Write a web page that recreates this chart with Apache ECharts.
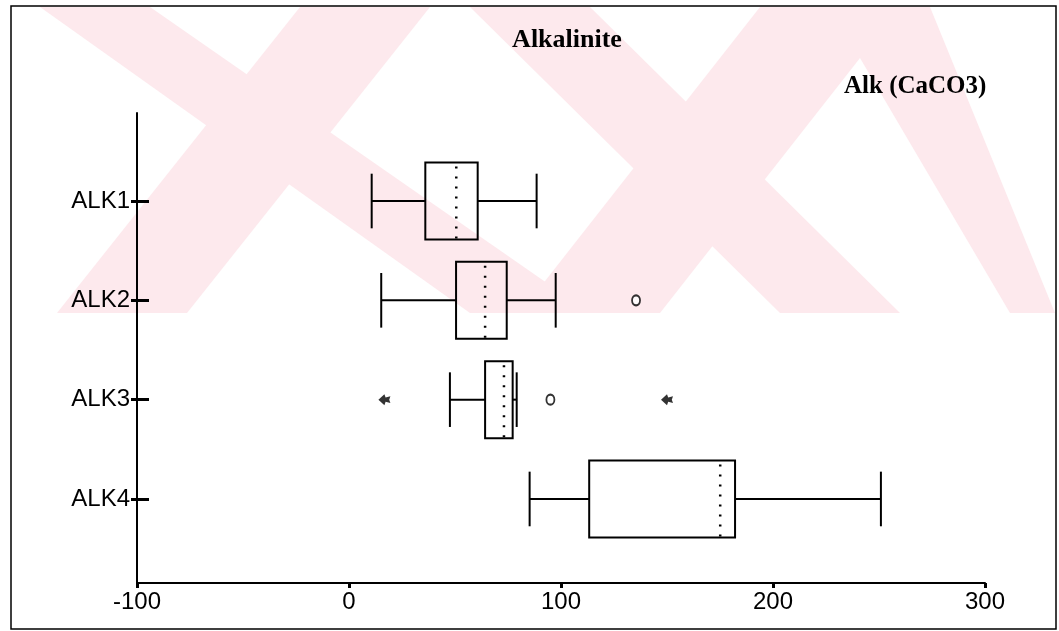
<!DOCTYPE html>
<html>
<head>
<meta charset="utf-8">
<script src="https://cdn.jsdelivr.net/npm/echarts@6/dist/echarts.min.js"></script>
<style>
html, body { margin: 0; padding: 0; background: #fff; }
#chart { width: 1059px; height: 631px; }
</style>
</head>
<body>
<div id="chart"></div>
<script>
var categories = ['ALK1', 'ALK2', 'ALK3', 'ALK4'];
// per row: whisker low, Q1, median, Q3, whisker high
var alk1 = [10.7, 36.0, 50.6, 60.7, 88.5];
var alk2 = [15.2, 50.5, 64.2, 74.4, 97.5];
var alk3 = [47.6, 64.2, 73.1, 77.2, 79.1];
var alk4 = [85.2, 113.3, 175.1, 182.1, 250.9];
var boxValues = [alk1, alk2, alk3, alk4];
// outliers: [value, category]
var circleOutliers = [[135.4, 'ALK2'], [95.0, 'ALK3']];
var starOutliers = [[16.7, 'ALK3'], [150.0, 'ALK3']];
var xTicks = [-100, 0, 100, 200, 300];

var rowOf = function (cat) { return categories.indexOf(cat) + 1; };
var rowTicks = categories.map(function (c, i) { return i + 1; });

var myChart = echarts.init(document.getElementById('chart'), null, { renderer: 'canvas' });

function renderBox(params, api) {
  var row = api.value(0);
  var pLo = api.coord([api.value(1), row]);
  var pQ1 = api.coord([api.value(2), row]);
  var pMed = api.coord([api.value(3), row]);
  var pQ3 = api.coord([api.value(4), row]);
  var pHi = api.coord([api.value(5), row]);
  var boxH = api.size([0, 0.775])[1];
  var capH = api.size([0, 0.55])[1];
  var y = pQ1[1];
  var ls = { stroke: '#000', lineWidth: 2, fill: null };
  return {
    type: 'group',
    children: [
      { type: 'rect', shape: { x: pQ1[0], y: y - boxH / 2, width: pQ3[0] - pQ1[0], height: boxH }, style: ls },
      { type: 'line', shape: { x1: pLo[0], y1: y, x2: pQ1[0], y2: y }, style: ls },
      { type: 'line', shape: { x1: pQ3[0], y1: y, x2: pHi[0], y2: y }, style: ls },
      { type: 'line', shape: { x1: pLo[0], y1: y - capH / 2, x2: pLo[0], y2: y + capH / 2 }, style: ls },
      { type: 'line', shape: { x1: pHi[0], y1: y - capH / 2, x2: pHi[0], y2: y + capH / 2 }, style: ls },
      { type: 'line', shape: { x1: pMed[0], y1: y - boxH / 2 + 4, x2: pMed[0], y2: y + boxH / 2 }, style: { stroke: '#000', lineWidth: 2.5, lineDash: [2, 8] } }
    ]
  };
}

// faint watermark bands (top part of the page only)
function band(a, b, c, d) {
  return {
    type: 'polygon', z: -10, silent: true,
    shape: { points: [[a, 7], [b, 7], [d, 313], [c, 313]] },
    style: { fill: '#fde9ed' }
  };
}

var option = {
  animation: false,
  backgroundColor: '#fff',
  title: [
    {
      text: 'Alkalinite', left: 562, top: 22, textAlign: 'center',
      textStyle: { fontFamily: 'Liberation Serif', fontWeight: 'bold', fontSize: 26, color: '#000' }
    },
    {
      text: 'Alk (CaCO3)', left: 839, top: 69,
      textStyle: { fontFamily: 'Liberation Serif', fontWeight: 'bold', fontSize: 25, color: '#000' }
    }
  ],
  graphic: [
    band(40, 150, 470, 590),
    band(300, 430, 57, 187),
    band(470, 590, 780, 900),
    band(760, 900, 520, 660),
    band(830, 930, 1010, 1055),
    {
      type: 'rect', z: 100, silent: true,
      shape: { x: 11, y: 6, width: 1045, height: 623 },
      style: { fill: null, stroke: '#000', lineWidth: 1.5 }
    }
  ],
  grid: { left: 137, right: 74, top: 113, bottom: 48 },
  xAxis: {
    type: 'value',
    min: xTicks[0], max: xTicks[xTicks.length - 1], interval: 100,
    axisLine: { onZero: false, lineStyle: { color: '#000', width: 2 } },
    axisTick: { length: 5, lineStyle: { color: '#000', width: 3 } },
    axisLabel: { color: '#000', fontFamily: 'Liberation Sans', fontSize: 24, margin: 7 },
    splitLine: { show: false }
  },
  yAxis: [
    {
      type: 'value', inverse: true, min: 0.114, max: 4.846,
      axisLine: { onZero: false, lineStyle: { color: '#000', width: 2 } },
      axisTick: { customValues: rowTicks, length: 6, lineStyle: { color: '#000', width: 3 } },
      axisLabel: {
        customValues: rowTicks, color: '#000', fontFamily: 'Liberation Sans', fontSize: 24, margin: 7,
        formatter: function (v) { return categories[Math.round(v) - 1] || ''; }
      },
      splitLine: { show: false }
    },
    {
      type: 'value', inverse: true, min: 0.114, max: 4.846, position: 'left', offset: 0,
      axisLine: { show: false, onZero: false },
      axisTick: { inside: true, customValues: rowTicks, length: 12, lineStyle: { color: '#000', width: 3 } },
      axisLabel: { show: false },
      splitLine: { show: false }
    }
  ],
  series: [
    {
      type: 'custom',
      renderItem: renderBox,
      encode: { x: [1, 2, 3, 4, 5], y: 0 },
      data: boxValues.map(function (b, i) { return [i + 1].concat(b); }),
      z: 3
    },
    {
      type: 'scatter',
      symbol: 'emptyCircle', symbolSize: [8, 10],
      itemStyle: { color: '#000', borderWidth: 2 },
      data: circleOutliers.map(function (o) { return [o[0], rowOf(o[1])]; }),
      z: 4
    },
    {
      type: 'scatter',
      symbol: 'path://M0,5 L5,0 L6,3 L10,2 L9,5 L10,8 L6,7 L5,10 Z',
      symbolSize: [12, 11],
      itemStyle: { color: '#000' },
      data: starOutliers.map(function (o) { return [o[0], rowOf(o[1])]; }),
      z: 4
    }
  ]
};

myChart.setOption(option);
</script>
</body>
</html>
